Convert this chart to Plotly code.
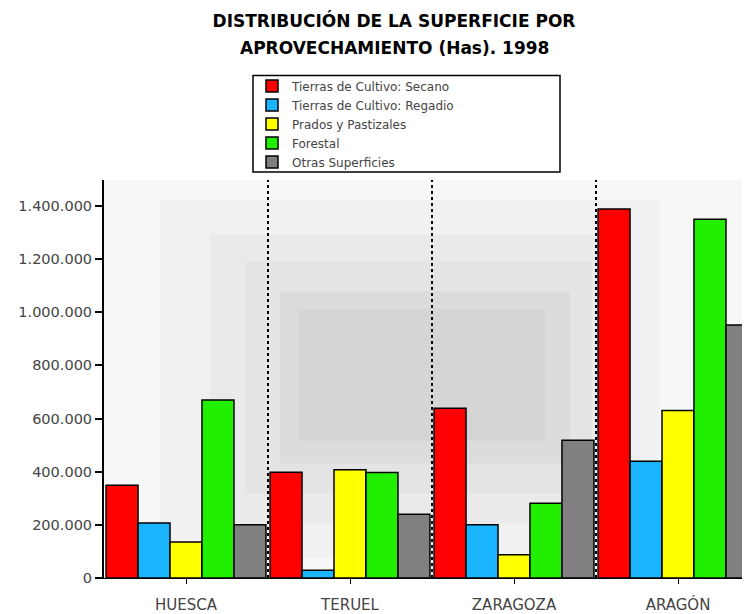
import plotly.graph_objects as go

categories = ["HUESCA", "TERUEL", "ZARAGOZA", "ARAGÓN"]
series_names = [
    "Tierras de Cultivo: Secano",
    "Tierras de Cultivo: Regadio",
    "Prados y Pastizales",
    "Forestal",
    "Otras Superficies",
]
secano = [349000, 398000, 639000, 1388000]
regadio = [207000, 29000, 200000, 439000]
prados = [135000, 407000, 87000, 630000]
forestal = [670000, 397000, 281000, 1350000]
otras = [200000, 240000, 518000, 952000]
series_values = [secano, regadio, prados, forestal, otras]
colors = ["#ff0000", "#1ab4ff", "#ffff00", "#22ee00", "#808080"]
y_ticks = [0, 200000, 400000, 600000, 800000, 1000000, 1200000, 1400000]
title_lines = ["DISTRIBUCIÓN DE LA SUPERFICIE POR", "APROVECHAMIENTO (Has). 1998"]

W, H = 750, 614
OFF = 8  # browser body margin
FONT = "DejaVu Sans, Verdana, sans-serif"

# plot area in screen pixels: x 104-750, y 180-580
PL, PR, PT, PB = 104, 750, 180, 580


def px(x):
    return (x - PL) / (PR - PL)


def py(y):
    return (PB - y) / (PB - PT)


fig = go.Figure()
for name, vals, col in zip(series_names, series_values, colors):
    fig.add_trace(go.Bar(
        x=list(range(len(categories))), y=vals, name=name,
        marker=dict(color=col, line=dict(color="black", width=1.5)),
    ))

shapes = []
bg = [
    (160, 200, 660, 560, "#f1f1f1"),
    (210, 235, 615, 525, "#eaeaea"),
    (245, 262, 592, 495, "#e4e4e4"),
    (280, 292, 570, 465, "#dcdcdc"),
    (298, 310, 545, 442, "#d5d5d5"),
]
for x0, y0, x1, y1, c in bg:
    shapes.append(dict(type="rect", xref="paper", yref="paper", x0=px(x0), x1=px(x1),
                       y0=py(y1), y1=py(y0), fillcolor=c, line=dict(width=0), layer="below"))
for i in range(len(categories) - 1):
    shapes.append(dict(type="line", xref="x", yref="y domain", x0=i + 0.5, x1=i + 0.5,
                       y0=0, y1=1, line=dict(color="black", width=2, dash="dot")))
shapes.append(dict(type="rect", xref="paper", yref="paper", x0=px(253), x1=px(560),
                   y0=py(172), y1=py(75), line=dict(color="black", width=1.5),
                   fillcolor="white", layer="below"))

fig.update_layout(
    width=W, height=H,
    margin=dict(l=PL - OFF, r=W - (PR - OFF), t=PT - OFF, b=H - (PB - OFF)),
    paper_bgcolor="white", plot_bgcolor="#f7f7f7",
    font=dict(family=FONT, color="#444"),
    separators=",.",
    title=dict(text="<b>" + title_lines[0] + "</b>",
               xref="container", yref="container",
               x=(394 - OFF) / W, xanchor="center", y=1 - (21 - OFF) / H, yanchor="middle",
               font=dict(family=FONT, size=17, color="black")),
    annotations=[dict(text="<b>" + title_lines[1] + "</b>", xref="paper", yref="paper",
                      x=px(394), y=py(47), xanchor="center", yanchor="middle",
                      showarrow=False, font=dict(family=FONT, size=17, color="black"))],
    barmode="group", bargap=0.025, bargroupgap=0,
    legend=dict(x=px(252), y=py(71), xanchor="left", yanchor="top",
                bgcolor="rgba(0,0,0,0)", borderwidth=0,
                font=dict(family=FONT, size=12, color="#444"),
                tracegroupgap=0),
    shapes=shapes,
    xaxis=dict(tickmode="array", tickvals=list(range(len(categories))), ticktext=categories,
               range=[-0.5, 3.439], showgrid=False, zeroline=False,
               showline=True, linecolor="black", linewidth=1,
               ticks="outside", tickson="boundaries", ticklen=5, tickcolor="black",
               ticklabelstandoff=8,
               tickfont=dict(family=FONT, size=15, color="#444")),
    yaxis=dict(range=[0, 1400000 * (PB - PT) / 374], tickvals=y_ticks, tickformat=",d",
               showgrid=False, zeroline=False, showline=True, linecolor="black", linewidth=2,
               ticks="outside", ticklen=7, tickcolor="black", tickwidth=1.5,
               tickfont=dict(family=FONT, size=14.5, color="#444")),
)

fig.write_html("out.html")
